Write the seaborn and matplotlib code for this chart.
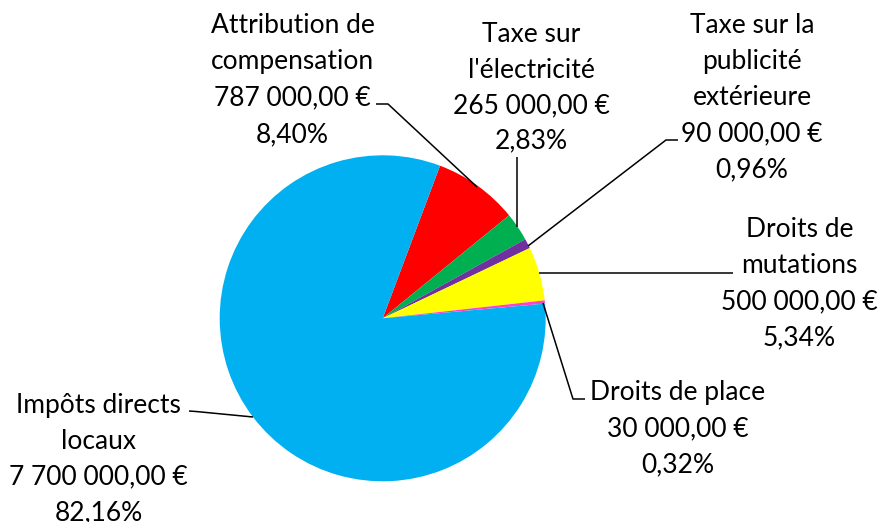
import matplotlib
matplotlib.use("Agg")
import matplotlib.pyplot as plt
import seaborn as sns

# ---- data (slice order as drawn, clockwise from the red/blue boundary) ----
categories = [
    "Attribution de\ncompensation",
    "Taxe sur\nl'électricité",
    "Taxe sur la\npublicité\nextérieure",
    "Droits de\nmutations",
    "Droits de place",
    "Impôts directs\nlocaux",
]
amounts = [787000, 265000, 90000, 500000, 30000, 7700000]
colors_hex = ["#FF0000", "#00B050", "#7030A0", "#FFFF00", "#FF40C8", "#00B0F0"]

sns.set_theme(style="white")
plt.rcParams["font.family"] = ["Lato", "DejaVu Sans"]

W, H = 879, 522
fig = plt.figure(figsize=(W / 100, H / 100), dpi=100)
ax = fig.add_axes([0, 0, 1, 1])
ax.set_xlim(0, W)
ax.set_ylim(0, H)
ax.set_aspect("equal")
ax.axis("off")

palette = sns.color_palette(colors_hex)
cx, cy, r = 382.7, H - 318.3, 163
ax.pie(amounts, colors=palette, startangle=69.4, counterclock=False,
       center=(cx, cy), radius=r, frame=True,
       wedgeprops=dict(linewidth=0))
ax.set_xlim(0, W)
ax.set_ylim(0, H)
ax.axis("off")

total = sum(amounts)


def fr_money(v):
    s = f"{v:,.2f}"
    s = s.replace(",", " ").replace(".", ",")
    return s + " €"


def fr_pct(v):
    return f"{v * 100:.2f}".replace(".", ",") + "%"


# label layout: (center x, first baseline, line spacing) in image pixel coords
layout = [
    (292.5, 33, 36.3),
    (531, 42, 35.5),
    (752, 33, 36.0),
    (799.5, 236.7, 36.1),
    (678, 400, 36.0),
    (98.5, 413, 35.7),
]
# leader lines (image pixel coords)
leaders = [
    [(376, 104), (388, 104), (477, 187)],
    [(517, 157), (517, 227)],
    [(678, 140), (666, 140), (528, 246)],
    [(733, 273.3), (539, 273.3)],
    [(585, 399), (573, 399), (543, 303)],
    [(189, 411), (196, 411.5), (253, 417)],
]

for cat, amt, (lx, b0, sp), path in zip(categories, amounts, layout, leaders):
    lines = cat.split("\n") + [fr_money(amt), fr_pct(amt / total)]
    for i, line in enumerate(lines):
        ax.text(lx, H - (b0 + i * sp), line, ha="center", va="baseline",
                fontsize=19, color="black")
    xs = [p[0] for p in path]
    ys = [H - p[1] for p in path]
    ax.plot(xs, ys, color="black", lw=1.1, solid_capstyle="butt")

fig.savefig("out.png", dpi=100)
